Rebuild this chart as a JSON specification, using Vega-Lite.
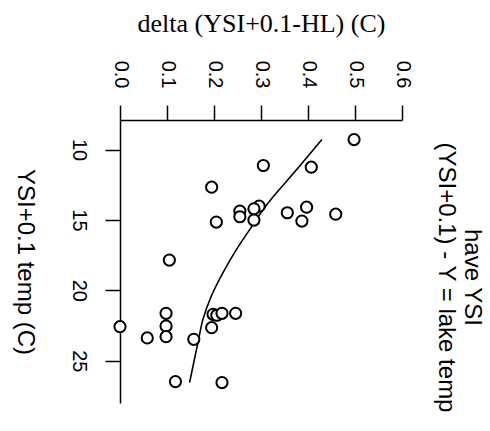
{
  "$schema": "https://vega.github.io/schema/vega-lite/v6.json",
  "width": 282,
  "height": 283,
  "autosize": {"type": "none"},
  "padding": {"left": 120, "top": 120, "right": 88, "bottom": 28},
  "background": "white",
  "config": {
    "view": {"stroke": null},
    "axis": {
      "grid": false,
      "domainColor": "black",
      "tickColor": "black",
      "labelColor": "black",
      "titleColor": "black",
      "domainWidth": 1.5,
      "tickWidth": 1.5,
      "tickSize": 15,
      "labelFont": "Liberation Sans",
      "labelFontSize": 20,
      "titleFontWeight": "normal"
    }
  },
  "title": {
    "text": ["have YSI", "(YSI+0.1) - Y = lake temp"],
    "orient": "right",
    "anchor": "middle",
    "font": "Liberation Sans",
    "fontSize": 24,
    "fontWeight": "normal",
    "color": "black",
    "offset": 22,
    "dx": 16,
    "lineHeight": 26
  },
  "datasets": {
    "pts": [
      {"delta": 0.498, "temp": 9.29},
      {"delta": 0.305, "temp": 11.13},
      {"delta": 0.407, "temp": 11.25},
      {"delta": 0.195, "temp": 12.67},
      {"delta": 0.296, "temp": 14.02},
      {"delta": 0.285, "temp": 14.21},
      {"delta": 0.255, "temp": 14.37},
      {"delta": 0.255, "temp": 14.77},
      {"delta": 0.285, "temp": 15.01},
      {"delta": 0.205, "temp": 15.15},
      {"delta": 0.356, "temp": 14.49},
      {"delta": 0.397, "temp": 14.09},
      {"delta": 0.387, "temp": 15.08},
      {"delta": 0.459, "temp": 14.59},
      {"delta": 0.105, "temp": 17.85},
      {"delta": 0.098, "temp": 21.63},
      {"delta": 0.098, "temp": 22.53},
      {"delta": 0.098, "temp": 23.29},
      {"delta": 0.0, "temp": 22.58},
      {"delta": 0.058, "temp": 23.38},
      {"delta": 0.157, "temp": 23.48},
      {"delta": 0.195, "temp": 22.65},
      {"delta": 0.198, "temp": 21.70},
      {"delta": 0.206, "temp": 21.77},
      {"delta": 0.217, "temp": 21.63},
      {"delta": 0.246, "temp": 21.63},
      {"delta": 0.118, "temp": 26.48},
      {"delta": 0.217, "temp": 26.55}
    ],
    "fit": [
      {"delta": 0.4295, "temp": 9.29},
      {"delta": 0.376, "temp": 11.42},
      {"delta": 0.333, "temp": 13.07},
      {"delta": 0.3047, "temp": 14.26},
      {"delta": 0.2763, "temp": 15.67},
      {"delta": 0.2479, "temp": 17.09},
      {"delta": 0.2192, "temp": 18.74},
      {"delta": 0.1944, "temp": 20.4},
      {"delta": 0.1765, "temp": 22.06},
      {"delta": 0.1658, "temp": 23.71},
      {"delta": 0.148, "temp": 26.55}
    ]
  },
  "encoding": {
    "x": {
      "field": "delta",
      "type": "quantitative",
      "scale": {"domain": [0, 0.6], "nice": false, "zero": false},
      "axis": {
        "orient": "top",
        "title": "delta (YSI+0.1-HL) (C)",
        "values": [0, 0.1, 0.2, 0.3, 0.4, 0.5, 0.6],
        "format": ".1f",
        "labelAngle": 90,
        "labelAlign": "right",
        "labelBaseline": "middle",
        "labelPadding": 17,
        "labelFlush": false,
        "labelOverlap": false,
        "titleFont": "Liberation Serif",
        "titleFontSize": 26,
        "titlePadding": 24
      }
    },
    "y": {
      "field": "temp",
      "type": "quantitative",
      "scale": {"domain": [7.9, 28], "nice": false, "zero": false, "reverse": true},
      "axis": {
        "orient": "left",
        "title": "YSI+0.1 temp (C)",
        "values": [10, 15, 20, 25],
        "labelAngle": 90,
        "labelAlign": "center",
        "labelBaseline": "top",
        "labelPadding": 17,
        "labelFlush": false,
        "labelOverlap": false,
        "titleFont": "Liberation Sans",
        "titleFontSize": 24,
        "titleAngle": 90,
        "titleBaseline": "top",
        "titlePadding": 32
      }
    }
  },
  "layer": [
    {
      "data": {"name": "fit"},
      "mark": {"type": "line", "color": "black", "strokeWidth": 1.6, "interpolate": "cardinal"},
      "encoding": {"order": {"field": "temp", "type": "quantitative"}}
    },
    {
      "data": {"name": "pts"},
      "mark": {"type": "point", "shape": "circle", "fill": "white", "stroke": "black", "strokeWidth": 2, "size": 125, "opacity": 1, "fillOpacity": 1}
    }
  ]
}
